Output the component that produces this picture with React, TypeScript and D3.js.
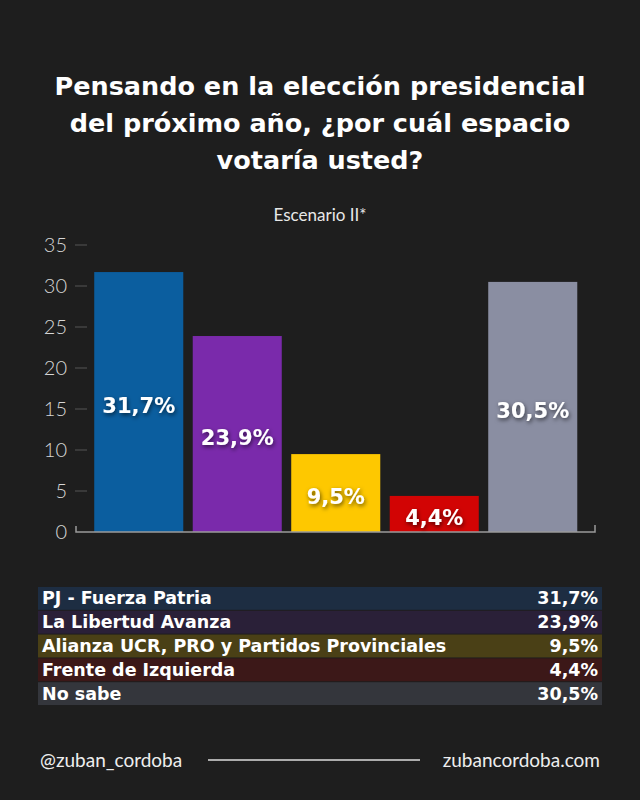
import { useEffect, useRef } from 'react';
import * as d3 from 'd3';

const PARTIES = ['PJ - Fuerza Patria', 'La Libertud Avanza', 'Alianza UCR, PRO y Partidos Provinciales', 'Frente de Izquierda', 'No sabe'];
const VALUES = [31.7, 23.9, 9.5, 4.4, 30.5];
const BAR_COLORS = ['#0b5e9f', '#7a2aab', '#fec800', '#d20404', '#8a8ea2'];
const ROW_COLORS = ['#1d2d42', '#2a2038', '#4a4016', '#3c1818', '#34363c'];
const Y_TICKS = [0, 5, 10, 15, 20, 25, 30, 35];
const TITLE_LINES = ['Pensando en la elección presidencial', 'del próximo año, ¿por cuál espacio', 'votaría usted?'];

const BOLD = '"DejaVu Sans", sans-serif';
const LIGHT = 'Lato, sans-serif';
const fmt = (v: number) => `${v.toFixed(1).replace('.', ',')}%`;

export default function App() {
  const svgRef = useRef<SVGSVGElement>(null);

  useEffect(() => {
    const W = 640, H = 800;
    const svg = d3.select(svgRef.current);
    svg.selectAll('*').remove();
    svg.attr('width', W).attr('height', H);

    const defs = svg.append('defs');
    defs.append('filter').attr('id', 'shadow').attr('x', '-20%').attr('y', '-30%').attr('width', '140%').attr('height', '160%')
      .append('feDropShadow').attr('dx', 1).attr('dy', 2).attr('stdDeviation', 2).attr('flood-color', '#000').attr('flood-opacity', 0.6);

    svg.append('rect').attr('width', W).attr('height', H).attr('fill', '#1e1e1e');

    // Title
    svg.append('g').selectAll('text').data(TITLE_LINES).join('text')
      .attr('x', W / 2).attr('y', (d, i) => 95 + i * 37)
      .attr('text-anchor', 'middle').attr('fill', '#fff')
      .attr('font-family', BOLD).attr('font-weight', 700).attr('font-size', 25.5)
      .text(d => d);

    svg.append('text').attr('x', W / 2).attr('y', 221)
      .attr('text-anchor', 'middle').attr('fill', '#e8e8e8')
      .attr('font-family', LIGHT).attr('font-weight', 400).attr('font-size', 17)
      .text('Escenario II*');

    const x = d3.scaleBand<string>().domain(PARTIES).range([89.5, 582]).paddingInner(0.096).paddingOuter(0.048);
    const y = d3.scaleLinear().domain([0, 35]).range([532, 245]);

    // Y axis ticks
    const yAxis = svg.append('g');
    yAxis.selectAll('line').data(Y_TICKS.filter(t => t > 0)).join('line')
      .attr('x1', 75).attr('x2', 87).attr('y1', d => y(d)).attr('y2', d => y(d))
      .attr('stroke', '#555').attr('stroke-width', 1);
    yAxis.selectAll('text').data(Y_TICKS).join('text')
      .attr('x', 67).attr('y', d => y(d) + 7)
      .attr('text-anchor', 'end').attr('fill', '#d6d6d6')
      .attr('font-family', LIGHT).attr('font-weight', 300).attr('font-size', 20)
      .text(d => d);

    // Bars
    svg.append('g').selectAll('rect').data(PARTIES).join('rect')
      .attr('x', d => x(d)!).attr('width', x.bandwidth())
      .attr('y', (d, i) => y(VALUES[i])).attr('height', (d, i) => y(0) - y(VALUES[i]))
      .attr('fill', (d, i) => BAR_COLORS[i]);

    // Baseline
    svg.append('path')
      .attr('d', `M76,${y(0) - 6}V${y(0)}H595V${y(0) - 7}`)
      .attr('fill', 'none').attr('stroke', '#9a9a9a').attr('stroke-width', 1.5);

    // Bar labels
    svg.append('g').selectAll('text').data(PARTIES).join('text')
      .attr('x', d => x(d)! + x.bandwidth() / 2)
      .attr('y', (d, i) => (y(VALUES[i]) + y(0)) / 2 + 11)
      .attr('text-anchor', 'middle').attr('fill', '#fff')
      .attr('font-family', BOLD).attr('font-weight', 700).attr('font-size', 21)
      .attr('filter', 'url(#shadow)')
      .text((d, i) => fmt(VALUES[i]));

    // Legend table
    const rowY = d3.scaleBand<string>().domain(PARTIES).range([586, 706]).padding(0.04);
    const rows = svg.append('g').selectAll('g').data(PARTIES).join('g')
      .attr('transform', d => `translate(0,${rowY(d)})`);
    rows.append('rect').attr('x', 38).attr('width', 564).attr('height', rowY.bandwidth())
      .attr('fill', (d, i) => ROW_COLORS[i]);
    rows.append('text').attr('x', 42).attr('y', rowY.bandwidth() / 2 + 6)
      .attr('fill', '#fff').attr('font-family', BOLD).attr('font-weight', 700).attr('font-size', 17.5)
      .text(d => d);
    rows.append('text').attr('x', 598).attr('y', rowY.bandwidth() / 2 + 6)
      .attr('text-anchor', 'end')
      .attr('fill', '#fff').attr('font-family', BOLD).attr('font-weight', 700).attr('font-size', 17.5)
      .text((d, i) => fmt(VALUES[i]));

    // Footer
    svg.append('text').attr('x', 40).attr('y', 767).attr('fill', '#eee')
      .attr('font-family', LIGHT).attr('font-weight', 400).attr('font-size', 19)
      .text('@zuban_cordoba');
    svg.append('line').attr('x1', 208).attr('x2', 420).attr('y1', 760).attr('y2', 760)
      .attr('stroke', '#ddd').attr('stroke-width', 1.5);
    svg.append('text').attr('x', 600).attr('y', 767).attr('text-anchor', 'end').attr('fill', '#eee')
      .attr('font-family', LIGHT).attr('font-weight', 400).attr('font-size', 19)
      .text('zubancordoba.com');
  }, []);

  return (
    <div style={{ position: 'absolute', top: 0, left: 0, width: 640, height: 800 }}>
      <svg ref={svgRef} style={{ display: 'block' }} />
    </div>
  );
}
